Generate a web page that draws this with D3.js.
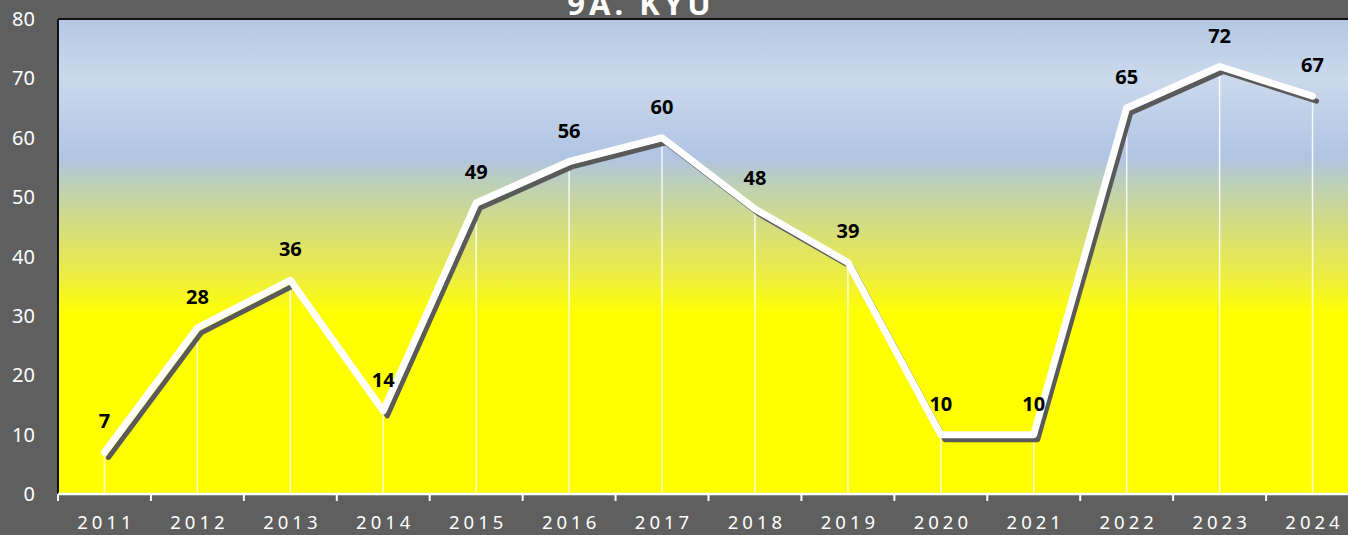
<!DOCTYPE html>
<html><head><meta charset="utf-8">
<script src="https://cdn.jsdelivr.net/npm/d3@7"></script>
<style>html,body{margin:0;padding:0;background:#5f5f5f;overflow:hidden}</style>
</head><body>
<svg id="c" width="1348" height="535"></svg>
<script>
const years = ["2011","2012","2013","2014","2015","2016","2017","2018","2019","2020","2021","2022","2023","2024"];
const values = [7,28,36,14,49,56,60,48,39,10,10,65,72,67];
const yTicks = [0,10,20,30,40,50,60,70,80];
const title = "9A. KYU";

(function(){
const W = 1348, H = 535;
const pL = 58, pT = 19, pB = 494, pR = 1359;
const svg = d3.select("#c");
svg.append("rect").attr("width",W).attr("height",H).attr("fill","#5f5f5f");

const x = d3.scaleBand().domain(years).range([pL,pR]).padding(0);
const y = d3.scaleLinear().domain([0,80]).range([pB,pT]);

const defs = svg.append("defs");
const g = defs.append("linearGradient").attr("id","bg").attr("x1",0).attr("y1",0).attr("x2",0).attr("y2",1);
[[0,"#b3c7e2"],[0.126,"#cbd9ec"],[0.29,"#b0c4e3"],[0.36,"#c0d2ae"],[0.45,"#d8df78"],[0.55,"#eeef3c"],[0.62,"#ffff00"],[1,"#ffff00"]]
  .forEach(([o,c])=>g.append("stop").attr("offset",o).attr("stop-color",c));

svg.append("rect").attr("x",pL).attr("y",pT).attr("width",pR-pL).attr("height",pB-pT).attr("fill","url(#bg)");

svg.append("line").attr("x1",pL).attr("x2",W).attr("y1",pT).attr("y2",pT).attr("stroke","#111").attr("stroke-width",2);
svg.append("line").attr("x1",pL).attr("x2",pL).attr("y1",pT).attr("y2",pB).attr("stroke","#111").attr("stroke-width",2);

svg.append("text").attr("x",641).attr("y",15).attr("text-anchor","middle")
  .attr("font-family","Noto Sans").attr("font-weight","bold").attr("font-size",31)
  .attr("letter-spacing",4).attr("fill","#fff").text(title);

const cx = d => x(d) + x.bandwidth()/2;

svg.append("g").selectAll("line").data(years).join("line")
  .attr("x1",d=>cx(d)).attr("x2",d=>cx(d))
  .attr("y1",(d,i)=>y(values[i])).attr("y2",pB)
  .attr("stroke","#fff").attr("stroke-opacity",0.85).attr("stroke-width",1.5);

const line = d3.line().x((d,i)=>cx(years[i])).y(d=>y(d));
svg.append("path").datum(values).attr("d",line).attr("transform","translate(4,5)")
  .attr("fill","none").attr("stroke","#5a5a5a").attr("stroke-width",5).attr("stroke-linejoin","round").attr("stroke-linecap","round");
svg.append("path").datum(values).attr("d",line)
  .attr("fill","none").attr("stroke","#fff").attr("stroke-width",7).attr("stroke-linejoin","round").attr("stroke-linecap","round");

svg.append("g").selectAll("text").data(values).join("text")
  .attr("x",(d,i)=>cx(years[i])).attr("y",d=>y(d)-24)
  .attr("text-anchor","middle").attr("font-family","Noto Sans").attr("font-weight","bold")
  .attr("font-size",20).attr("fill","#000").text(d=>d);

const xa = svg.append("g").attr("transform",`translate(0,${pB})`);
xa.append("line").attr("x1",pL).attr("x2",W).attr("stroke","#fff").attr("stroke-width",2.5);
xa.selectAll(".tk").data(years).join("line").attr("class","tk")
  .attr("x1",d=>x(d)).attr("x2",d=>x(d)).attr("y1",0).attr("y2",7).attr("stroke","#fff").attr("stroke-width",2);
xa.selectAll(".lb").data(years).join("text").attr("class","lb")
  .attr("x",d=>cx(d)+2).attr("y",35).attr("text-anchor","middle")
  .attr("font-family","Noto Sans").attr("font-size",18.5).attr("letter-spacing",4)
  .attr("fill","#fff").text(d=>d);

svg.append("g").selectAll("text").data(yTicks).join("text")
  .attr("x",35).attr("y",d=>y(d)+7).attr("text-anchor","end")
  .attr("font-family","Noto Sans").attr("font-size",20).attr("fill","#fff").text(d=>d);
})();
</script>
</body></html>
